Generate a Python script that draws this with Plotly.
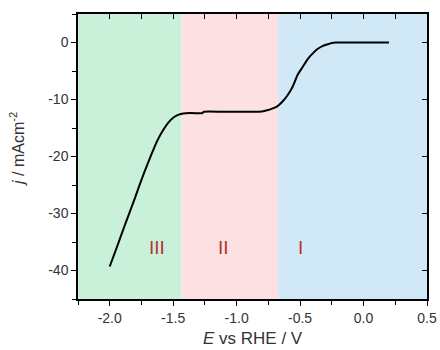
import plotly.graph_objects as go

# Data
E = [-2.0, -1.95, -1.9, -1.85, -1.8, -1.75, -1.70, -1.66, -1.62, -1.58, -1.54, -1.50,
     -1.47, -1.44, -1.40, -1.30, -1.27, -1.26, -1.1, -0.9, -0.80, -0.76, -0.72, -0.68,
     -0.64, -0.60, -0.56, -0.52, -0.48, -0.44, -0.40, -0.36, -0.32, -0.28, -0.25, -0.22,
     -0.1, 0.0, 0.1, 0.2]
J = [-39.3, -36.3, -33.2, -30.2, -27.2, -24.1, -21.2, -19.0, -17.0, -15.4, -14.1, -13.2,
     -12.8, -12.55, -12.4, -12.4, -12.4, -12.15, -12.15, -12.15, -12.1, -11.9, -11.6, -11.2,
     -10.4, -9.3, -7.8, -5.7, -4.3, -2.9, -1.9, -1.1, -0.6, -0.3, -0.1, 0.0,
     0.0, 0.0, 0.0, 0.0]

x_tickvals = [-2.0, -1.5, -1.0, -0.5, 0.0, 0.5]
x_ticktext = ["-2.0", "-1.5", "-1.0", "-0.5", "0.0", "0.5"]
y_tickvals = [-40, -30, -20, -10, 0]
y_ticktext = ["-40", "-30", "-20", "-10", "0"]

region_bounds = [(-2.25, -1.434), (-1.434, -0.673), (-0.673, 0.5)]
region_colors = ["#c9f1da", "#fde0e2", "#d1e8f6"]
region_labels = ["III", "II", "I"]
label_x = [-1.63, -1.10, -0.50]
label_y = -36.0

x_range = [-2.25, 0.5]
y_range = [-45, 5]

font_family = "Arial, Liberation Sans, sans-serif"

fig = go.Figure()
fig.add_trace(go.Scatter(x=E, y=J, mode="lines",
                         line=dict(color="black", width=2, shape="spline", smoothing=0.6),
                         showlegend=False))
fig.add_trace(go.Scatter(x=[x_range[0]], y=[y_range[0]], xaxis="x2", yaxis="y2",
                         mode="markers", marker=dict(opacity=0), showlegend=False,
                         hoverinfo="skip"))

shapes = []
for (x0, x1), c in zip(region_bounds, region_colors):
    shapes.append(dict(type="rect", xref="x", yref="paper", x0=x0, x1=x1, y0=0, y1=1,
                       fillcolor=c, line=dict(width=0), layer="below"))

annotations = []
for lab, lx in zip(region_labels, label_x):
    annotations.append(dict(x=lx, y=label_y, xref="x", yref="y", text=lab, showarrow=False,
                            font=dict(family=font_family, size=19, color="#b5352c")))
annotations.append(dict(x=0.5, y=(299 - 338.5) / 285, xref="paper", yref="paper",
                        text="<i>E</i> vs RHE / V", showarrow=False, yanchor="middle",
                        font=dict(family=font_family, size=17, color="#333")))
annotations.append(dict(x=(17 - 78) / 349, y=(299 - 149) / 285, xref="paper", yref="paper",
                        text="<i>j</i> / mAcm<sup>-2</sup>", showarrow=False, textangle=-90,
                        xanchor="center", yanchor="middle",
                        font=dict(family=font_family, size=16, color="#333")))

axis_common = dict(showline=True, linecolor="black", linewidth=1.5, showgrid=False,
                   zeroline=False, tickcolor="black", tickwidth=1.3, ticklen=5,
                   automargin=False,
                   tickfont=dict(family=font_family, size=14, color="#333"))

fig.update_layout(
    width=440, height=350,
    margin=dict(l=78, r=13, t=14, b=51, autoexpand=False),
    plot_bgcolor="white", paper_bgcolor="white",
    shapes=shapes, annotations=annotations,
    xaxis=dict(range=x_range, tickmode="array", tickvals=x_tickvals, ticktext=x_ticktext,
               ticks="outside",
               minor=dict(dtick=0.25, tick0=0, ticks="outside", ticklen=4, tickcolor="black"),
               **axis_common),
    yaxis=dict(range=y_range, tickmode="array", tickvals=y_tickvals, ticktext=y_ticktext,
               ticks="outside",
               minor=dict(dtick=5, tick0=0, ticks="outside", ticklen=4, tickcolor="black"),
               **axis_common),
    xaxis2=dict(range=x_range, overlaying="x", side="top", dtick=0.25, tick0=0,
                ticks="inside", showticklabels=False, showline=True, linecolor="black",
                linewidth=1.5, showgrid=False, zeroline=False, tickcolor="black",
                tickwidth=1.3, ticklen=5, automargin=False),
    yaxis2=dict(range=y_range, overlaying="y", side="right", dtick=10, tick0=0,
                ticks="inside", showticklabels=False, showline=True, linecolor="black",
                linewidth=1.5, showgrid=False, zeroline=False, tickcolor="black",
                tickwidth=1.3, ticklen=5, automargin=False),
)

fig.write_html("out.html")
